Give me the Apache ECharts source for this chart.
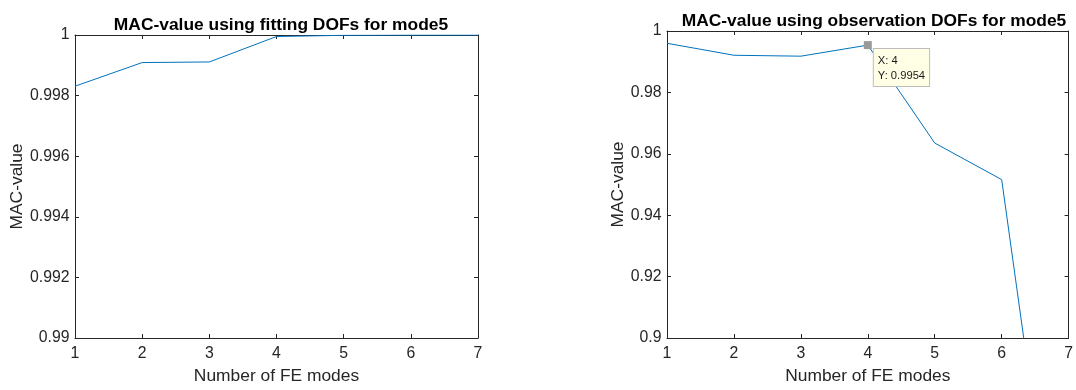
<!DOCTYPE html>
<html>
<head>
<meta charset="utf-8">
<script src="https://cdn.jsdelivr.net/npm/echarts@6/dist/echarts.min.js"></script>
<style>
html,body{margin:0;padding:0;background:#fff;}
#c{width:1076px;height:390px;}
</style>
</head>
<body>
<div id="c"></div>
<script>
// Data
const feModes = [1, 2, 3, 4, 5, 6, 7];
const macFitting = [0.99831, 0.99909, 0.99911, 0.99995, 0.99999, 1.0, 1.0];
const macObservation = [0.9960, 0.9921, 0.9918, 0.9954, 0.9635, 0.9516, 0.795];
const leftTitle = 'MAC-value using fitting DOFs for mode5';
const rightTitle = 'MAC-value using observation DOFs for mode5';
const xName = 'Number of FE modes';
const yName = 'MAC-value';
const leftY = {min: 0.99, max: 1, interval: 0.002};
const rightY = {min: 0.9, max: 1, interval: 0.02};
const xRange = {min: 1, max: 7, interval: 1};
const datatip = {x: 4, y: 0.9954};

const FONT = '"Liberation Sans", Arial, Helvetica, sans-serif';
const AX = '#262626';
const fmt = v => String(parseFloat(v.toFixed(4)));

function xAxes(gi, nameGap) {
  return [
    {
      type: 'value', gridIndex: gi, min: xRange.min, max: xRange.max, interval: xRange.interval,
      name: xName, nameLocation: 'middle', nameGap: nameGap,
      nameTextStyle: {fontFamily: FONT, fontSize: 17.4, color: AX},
      axisLine: {show: true, onZero: false, lineStyle: {color: AX, width: 1}},
      axisTick: {show: true, inside: true, length: 4, lineStyle: {color: AX}},
      axisLabel: {show: true, margin: 8, fontFamily: FONT, fontSize: 15.8, color: AX, formatter: fmt},
      splitLine: {show: false}
    },
    {
      type: 'value', gridIndex: gi, position: 'top', min: xRange.min, max: xRange.max, interval: xRange.interval,
      axisLine: {show: true, onZero: false, lineStyle: {color: AX, width: 1}},
      axisTick: {show: true, inside: true, length: 4, lineStyle: {color: AX}},
      axisLabel: {show: false}, splitLine: {show: false}
    }
  ];
}
function yAxes(gi, r, nameGap) {
  return [
    {
      type: 'value', gridIndex: gi, min: r.min, max: r.max, interval: r.interval,
      name: yName, nameLocation: 'middle', nameGap: nameGap, nameRotate: 90,
      nameTextStyle: {fontFamily: FONT, fontSize: 17.4, color: AX},
      axisLine: {show: true, onZero: false, lineStyle: {color: AX, width: 1}},
      axisTick: {show: true, inside: true, length: 4, lineStyle: {color: AX}},
      axisLabel: {show: true, margin: 5.5, fontFamily: FONT, fontSize: 15.8, color: AX, formatter: fmt},
      splitLine: {show: false}
    },
    {
      type: 'value', gridIndex: gi, position: 'right', min: r.min, max: r.max, interval: r.interval,
      axisLine: {show: true, onZero: false, lineStyle: {color: AX, width: 1}},
      axisTick: {show: true, inside: true, length: 4, lineStyle: {color: AX}},
      axisLabel: {show: false}, splitLine: {show: false}
    }
  ];
}

const chart = echarts.init(document.getElementById('c'), null, {renderer: 'canvas'});
chart.setOption({
  animation: false,
  backgroundColor: '#fff',
  title: [
    {text: leftTitle, left: 276, top: 11.5, textAlign: 'center',
     textStyle: {fontFamily: FONT, fontSize: 17.4, fontWeight: 'bold', color: '#000'}},
    {text: rightTitle, left: 869, top: 8, textAlign: 'center',
     textStyle: {fontFamily: FONT, fontSize: 17.4, fontWeight: 'bold', color: '#000'}}
  ],
  grid: [
    {left: 75, right: 598, top: 35, bottom: 49},
    {left: 667, right: 3, top: 31, bottom: 49}
  ],
  xAxis: [...xAxes(0, 30), ...xAxes(1, 30)],
  yAxis: [...yAxes(0, leftY, 48), ...yAxes(1, rightY, 39)],
  series: [
    {
      type: 'line', xAxisIndex: 0, yAxisIndex: 0,
      data: feModes.map((x, i) => [x, macFitting[i]]),
      showSymbol: false, symbol: 'none', clip: true,
      lineStyle: {color: '#0072BD', width: 1}
    },
    {
      type: 'line', xAxisIndex: 2, yAxisIndex: 2,
      data: feModes.map((x, i) => [x, macObservation[i]]),
      showSymbol: false, symbol: 'none', clip: true,
      lineStyle: {color: '#0072BD', width: 1},
      markPoint: {
        silent: true,
        data: [{
          coord: [datatip.x, datatip.y],
          symbol: 'rect', symbolSize: 8,
          itemStyle: {color: '#9a9a9a'},
          label: {
            show: true,
            position: [10, 8],
            align: 'left', verticalAlign: 'top',
            formatter: 'X: ' + datatip.x + '\nY: ' + datatip.y,
            fontFamily: FONT, fontSize: 11.2, lineHeight: 15, color: '#1a1a1a',
            backgroundColor: '#FFFFE6', borderColor: '#BDBDBD', borderWidth: 1,
            padding: [4, 4, 3, 4]
          }
        }]
      }
    }
  ]
});
</script>
</body>
</html>
